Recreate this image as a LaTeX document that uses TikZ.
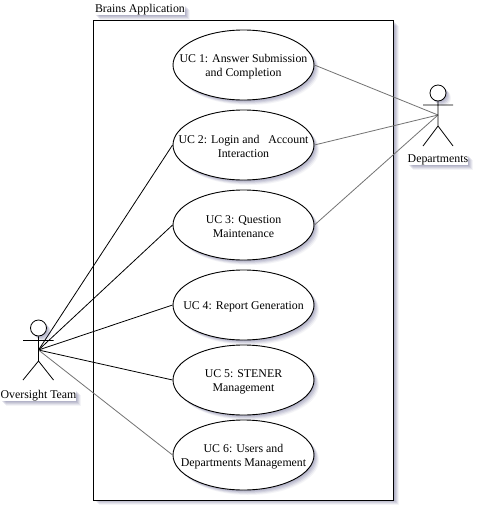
\documentclass[tikz,border=0pt]{standalone}
\usepackage{fontspec}
\setmainfont{Liberation Serif}
\usetikzlibrary{shapes.geometric,shadows}
\definecolor{navy}{RGB}{50,50,110}
\tikzset{
  softshadow/.style={
    general shadow={shadow xshift=1pt,shadow yshift=-1pt,fill=navy,opacity=.10},
    general shadow={shadow xshift=2pt,shadow yshift=-2pt,fill=navy,opacity=.10},
    general shadow={shadow xshift=3pt,shadow yshift=-3pt,fill=navy,opacity=.10},
    general shadow={shadow xshift=4pt,shadow yshift=-4pt,fill=navy,opacity=.08},
    general shadow={shadow xshift=5pt,shadow yshift=-5pt,fill=navy,opacity=.05}},
  usecase/.style={ellipse,draw=black,line width=.9pt,fill=white,minimum width=141pt,minimum height=70pt,inner sep=0pt,softshadow},
  uctext/.style={inner sep=0pt,align=center,yshift=-1.5pt,font=\fontsize{11.85}{14}\selectfont},
  textlabel/.style={inner sep=0pt,outer sep=0pt,fill=white,font=\fontsize{11.85}{13}\selectfont,softshadow},
  actorhead/.style={circle,draw,line width=.8pt,fill=white,minimum size=16pt,inner sep=0pt,softshadow},
  actorline/.style={line width=.8pt,black},
  darklink/.style={line width=.8pt,black},
  greylink/.style={line width=.8pt,black!55},
  sysbox/.style={rectangle,draw=black,line width=.9pt,fill=white,minimum width=300pt,minimum height=479.5pt,inner sep=0pt,softshadow},
}
\begin{document}
\begin{tikzpicture}[x=1pt,y=-1pt]
\useasboundingbox[fill=white] (0,0) rectangle (480,512);
\node[sysbox] (box) at (243.5,260.25) {};
\node[textlabel,anchor=west] (sys) at (95,10) {Brains Application};
\coordinate (oj) at (38.5,350);
\coordinate (dj) at (438,115);
\node[usecase] (u1) at (243.5,65) {};
\node[uctext] (t1) at (u1) {UC 1: Answer Submission\\and Completion};
\node[usecase] (u2) at (243.5,145) {};
\node[uctext] (t2) at (u2) {UC 2: Login and\ \ \ Account\\Interaction};
\node[usecase] (u3) at (243.5,225) {};
\node[uctext] (t3) at (u3) {UC 3: Question\\Maintenance};
\node[usecase] (u4) at (243.5,305) {};
\node[uctext] (t4) at (u4) {UC 4: Report Generation};
\node[usecase] (u5) at (243.5,380) {};
\node[uctext] (t5) at (u5) {UC 5: STENER\\Management};
\node[usecase] (u6) at (243.5,455) {};
\node[uctext] (t6) at (u6) {UC 6: Users and\\Departments Management};
\draw[greylink] (u1.east) -- (dj);
\draw[greylink] (u2.east) -- (dj);
\draw[greylink] (u3.east) -- (dj);
\draw[darklink] (u2.west) -- (oj);
\draw[darklink] (u3.west) -- (oj);
\draw[darklink] (u4.west) -- (oj);
\draw[darklink] (u5.west) -- (oj);
\draw[greylink] (u6.west) -- (oj);
\node[actorhead] (oh) at (38.5,328) {};
\draw[actorline] (oh.south) -- (38.5,361) -- (23,380) (38.5,361) -- (53.5,380) (23,340.5) -- (53.5,340.5);
\node[textlabel] (ol) at (38.5,395.5) {Oversight Team};
\node[actorhead] (dh) at (438,93) {};
\draw[actorline] (dh.south) -- (438,126) -- (423,146) (438,126) -- (453,146) (423,105) -- (453,105);
\node[textlabel] (dl) at (438,160) {Departments};
\end{tikzpicture}
\end{document}
